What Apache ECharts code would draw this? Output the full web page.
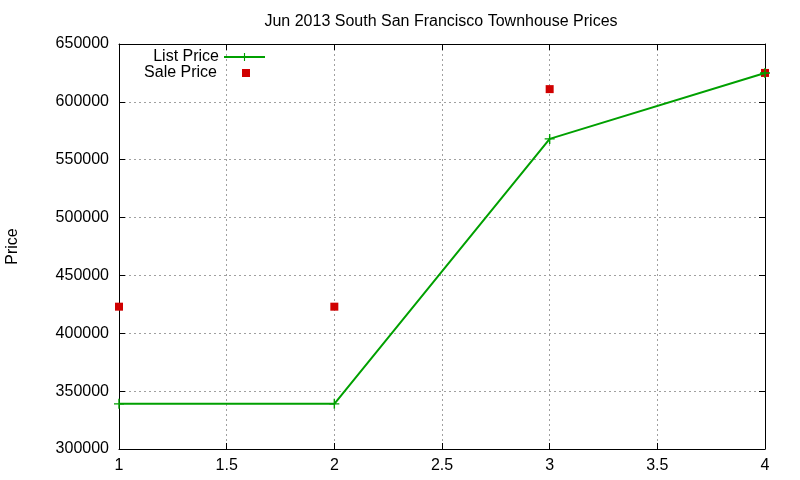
<!DOCTYPE html>
<html><head><meta charset="utf-8">
<script src="https://cdn.jsdelivr.net/npm/echarts@6/dist/echarts.min.js"></script>
<style>html,body{margin:0;padding:0;background:#fff}#c{width:800px;height:480px}</style>
</head><body><div id="c"></div>
<script>
const xValues = [1, 2, 3, 4];
const listPrice = [339000, 339000, 568000, 625000];
const salePrice = [423000, 423000, 611000, 625000];
const titleText = 'Jun 2013 South San Francisco Townhouse Prices';

const chart = echarts.init(document.getElementById('c'));
const font = 'Liberation Sans, Arial, sans-serif';
const plus = 'path://M0,4.3L10,4.3L10,5.7L0,5.7ZM4.3,0L5.7,0L5.7,10L4.3,10Z';
const gridLine = {show: true, lineStyle: {color: '#a0a0a0', type: [2, 3], width: 1}};
chart.setOption({
  animation: false,
  textStyle: {fontFamily: font},
  title: {text: titleText, left: 436, top: 9, textAlign: 'center',
    textStyle: {fontFamily: font, fontSize: 16, fontWeight: 'normal', color: '#000'}},
  legend: [
    {data: ['List Price'], orient: 'vertical', align: 'right', right: 534, top: 49, padding: 0, itemWidth: 41, itemHeight: 10,
      textStyle: {fontFamily: font, fontSize: 16, color: '#000'}},
    {data: [{name: 'Sale Price', icon: 'rect'}], orient: 'vertical', align: 'right', right: 550, top: 65, padding: 0, itemWidth: 8, itemHeight: 8,
      textStyle: {fontFamily: font, fontSize: 16, color: '#000', padding: [0, 20, 0, 0]}}
  ],
  grid: {left: 119, right: 35, top: 44, bottom: 31, outerBoundsMode: 'none', containLabel: false},
  xAxis: [
    {type: 'value', min: 1, max: 4, interval: 0.5, position: 'bottom',
      axisLine: {show: true, onZero: false, lineStyle: {color: '#000'}},
      axisTick: {show: true, inside: true, length: 6, lineStyle: {color: '#000'}},
      axisLabel: {color: '#000', fontSize: 16, margin: 9, fontFamily: font},
      splitLine: gridLine},
    {type: 'value', min: 1, max: 4, interval: 0.5, position: 'top',
      axisLine: {show: true, onZero: false, lineStyle: {color: '#000'}},
      axisTick: {show: true, inside: true, length: 6, lineStyle: {color: '#000'}},
      axisLabel: {show: false}, splitLine: {show: false}}
  ],
  yAxis: [
    {type: 'value', min: 300000, max: 650000, interval: 50000, position: 'left',
      name: 'Price', nameLocation: 'middle', nameGap: 98, nameRotate: 90,
      nameTextStyle: {color: '#000', fontSize: 16, fontFamily: font},
      axisLine: {show: true, onZero: false, lineStyle: {color: '#000'}},
      axisTick: {show: true, inside: true, length: 6, lineStyle: {color: '#000'}},
      axisLabel: {color: '#000', fontSize: 16, margin: 10, fontFamily: font, formatter: v => String(v)},
      splitLine: gridLine},
    {type: 'value', min: 300000, max: 650000, interval: 50000, position: 'right',
      axisLine: {show: true, onZero: false, lineStyle: {color: '#000'}},
      axisTick: {show: true, inside: true, length: 6, lineStyle: {color: '#000'}},
      axisLabel: {show: false}, splitLine: {show: false}}
  ],
  series: [
    {name: 'List Price', type: 'line', data: xValues.map((x, i) => [x, listPrice[i]]),
      symbol: plus, symbolSize: 10, showAllSymbol: true,
      lineStyle: {color: '#00a000', width: 2}, itemStyle: {color: '#00a000'}},
    {name: 'Sale Price', type: 'scatter', data: xValues.map((x, i) => [x, salePrice[i]]),
      symbol: 'rect', symbolSize: 8, itemStyle: {color: '#d00000', opacity: 1}}
  ]
});
</script></body></html>
